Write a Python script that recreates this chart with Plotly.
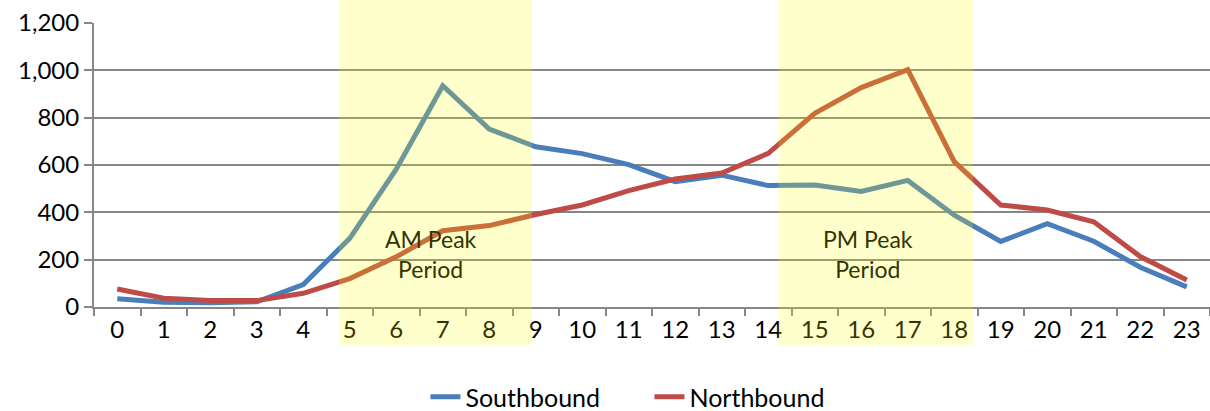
import plotly.graph_objects as go

hours = [str(h) for h in range(24)]
southbound = [35, 20, 18, 22, 95, 290, 582, 935, 752, 677, 648, 602, 530, 557, 513,
              515, 488, 535, 388, 277, 352, 278, 168, 85]
northbound = [76, 37, 27, 27, 58, 120, 212, 322, 344, 391, 431, 492, 541, 566, 649,
              818, 927, 1003, 614, 431, 410, 360, 213, 114]
peak_periods = [("AM Peak<br>Period", 4.77, 8.92, 6.75), ("PM Peak<br>Period", 14.22, 18.4, 16.14)]
label_value = 222

FONT = "Lato"
GRID = "rgb(134,134,134)"

fig = go.Figure()
fig.add_trace(go.Scatter(x=hours, y=southbound, mode="lines", name="Southbound",
                         line=dict(color="#4A7EBB", width=5)))
fig.add_trace(go.Scatter(x=hours, y=northbound, mode="lines", name="Northbound",
                         line=dict(color="#BE4B48", width=5)))

shapes = []
annotations = []
for text, x0, x1, xc in peak_periods:
    shapes.append(dict(type="rect", xref="x", yref="paper", x0=x0, x1=x1,
                       y0=-0.134, y1=1.081, fillcolor="rgba(255,255,0,0.2)",
                       line=dict(width=0), layer="above"))
    annotations.append(dict(x=xc, y=label_value, xref="x", yref="y", text=text,
                            showarrow=False, font=dict(family=FONT, size=23, color="rgb(51,51,0)")))

fig.update_layout(
    width=1210, height=411,
    margin=dict(l=94, r=0, t=23, b=104, autoexpand=False),
    paper_bgcolor="white", plot_bgcolor="white",
    font=dict(family=FONT, size=24, color="black"),
    shapes=shapes, annotations=annotations,
    showlegend=True,
    legend=dict(orientation="h", x=0.297, xanchor="left", y=-0.317, yanchor="middle",
                font=dict(family=FONT, size=25), entrywidth=179, entrywidthmode="pixels",
                traceorder="normal", bgcolor="rgba(0,0,0,0)"),
    xaxis=dict(type="category", categoryorder="array", categoryarray=hours, automargin=False,
               range=[-0.5, 23.5], showgrid=False, showline=True, linecolor=GRID, linewidth=2,
               ticks="outside", tickson="boundaries", ticklen=7, tickcolor=GRID, tickwidth=2,
               tickfont=dict(family=FONT, size=24)),
    yaxis=dict(range=[0, 1200], dtick=200, tickformat=",", showgrid=True, gridcolor=GRID,
               automargin=False,
               gridwidth=1.5, showline=True, linecolor=GRID, linewidth=2, zeroline=False,
               ticks="outside", ticklen=8, tickcolor=GRID, tickwidth=2,
               tickfont=dict(family=FONT, size=24)),
)

fig.write_html("out.html", config={"displayModeBar": False},
               post_script="document.body.style.margin='0';document.body.style.overflow='hidden';")
